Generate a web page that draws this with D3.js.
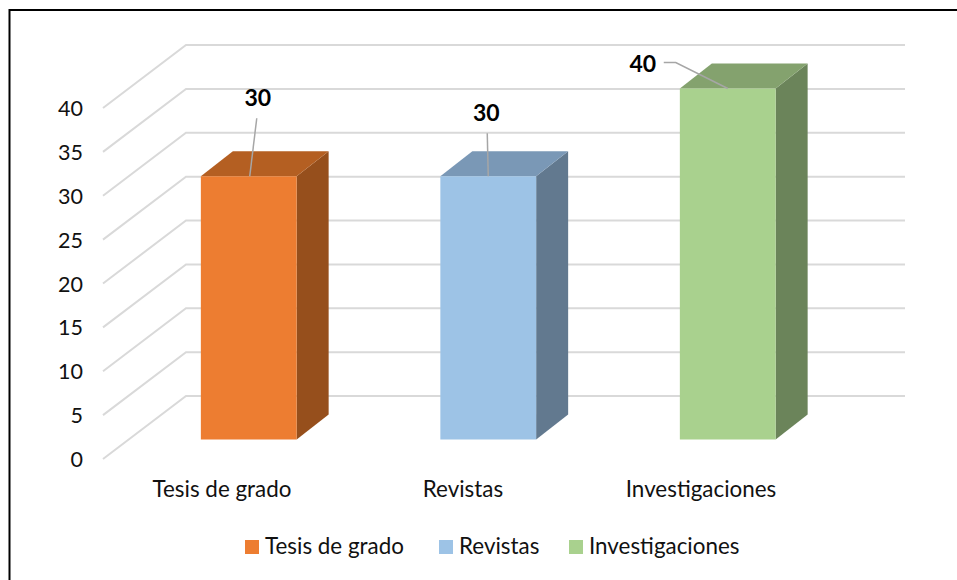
<!DOCTYPE html>
<html>
<head>
<meta charset="utf-8">
<script src="https://cdn.jsdelivr.net/npm/d3@7"></script>
<style>
  html, body { margin: 0; padding: 0; background: #fff; }
  svg { display: block; }
  text { font-family: Lato, "Open Sans", sans-serif; fill: #111; }
</style>
</head>
<body>
<svg width="957" height="580"></svg>
<script>
// Chart data
var categories = ["Tesis de grado", "Revistas", "Investigaciones"];
var values = [30, 30, 40];
var yTicks = [0, 5, 10, 15, 20, 25, 30, 35, 40];
var frontColors = ["#ED7D31", "#9DC3E6", "#A9D18E"];
var topColors = ["#B45F22", "#7A98B6", "#84A26E"];
var sideColors = ["#964F1C", "#62798F", "#6B845A"];

var svg = d3.select("svg");

//Only the top and left edges of the picture frame are visible
svg.append("path")
  .attr("d", d3.line()([[9.5, 580], [9.5, 10], [957, 10]]))
  .attr("fill", "none")
  .attr("stroke", "#000")
  .attr("stroke-width", 2);

//Scale of the back wall, the bars stand in front of it
const yBack = d3.scaleLinear().domain([0, 40]).range([396, 45]);
const xBand = d3.scaleBand().domain(categories).range([129, 847.5]).paddingInner(0.6).paddingOuter(0.3);

//Depth offsets of the floor and of the bars
const wallDepth = { x: 83, y: 63 };
const barDepth = { x: 32, y: 25 };
const wallLeft = 186;
const wallRight = 905;
const barLift = 43.5;

//Gridlines on the back wall and the side wall
const grid = svg.append("g").attr("class", "grid");
grid.selectAll("path")
  .data(yTicks)
  .join("path")
  .attr("d", function (d) {
    const y = yBack(d);
    return d3.line()([[wallLeft - wallDepth.x, y + wallDepth.y], [wallLeft, y], [wallRight, y]]);
  })
  .attr("fill", "none")
  .attr("stroke", "#D9D9D9")
  .attr("stroke-width", 2);

//Y axis labels
svg.selectAll(".y-label")
  .data(yTicks)
  .join("text")
  .attr("class", "y-label")
  .attr("x", 83)
  .attr("y", function (d) { return yBack(d) + 71; })
  .attr("text-anchor", "end")
  .style("font-size", "21.5px")
  .text(function (d) { return d; });

//Bars, each made from a front, a top and a side face
const bars = svg.selectAll(".bar")
  .data(categories)
  .join("g")
  .attr("class", "bar");

function barBox(i) {
  const x0 = xBand(categories[i]);
  const x1 = x0 + xBand.bandwidth();
  const yTop = yBack(values[i]) + barLift;
  const yBase = yBack(0) + barLift;
  return { x0: x0, x1: x1, yTop: yTop, yBase: yBase };
}

bars.append("path")
  .attr("d", function (d, i) {
    const b = barBox(i);
    return d3.line()([[b.x1, b.yTop], [b.x1 + barDepth.x, b.yTop - barDepth.y], [b.x1 + barDepth.x, b.yBase - barDepth.y], [b.x1, b.yBase]]) + "Z";
  })
  .attr("fill", function (d, i) { return sideColors[i]; });

bars.append("path")
  .attr("d", function (d, i) {
    const b = barBox(i);
    return d3.line()([[b.x0, b.yTop], [b.x0 + barDepth.x, b.yTop - barDepth.y], [b.x1 + barDepth.x, b.yTop - barDepth.y], [b.x1, b.yTop]]) + "Z";
  })
  .attr("fill", function (d, i) { return topColors[i]; });

bars.append("rect")
  .attr("x", function (d, i) { return barBox(i).x0; })
  .attr("y", function (d, i) { return barBox(i).yTop; })
  .attr("width", xBand.bandwidth())
  .attr("height", function (d, i) { return barBox(i).yBase - barBox(i).yTop; })
  .attr("fill", function (d, i) { return frontColors[i]; });

//Data labels were dragged by hand in the original, so they carry their own offsets
const labelOffsets = [
  { dx: 9, dy: -77, leader: [[8, -58], [1, 0]] },
  { dx: -2, dy: -62, leader: [[-1, -43], [0, 0]] },
  { dx: -85, dy: -24, leader: [[-64, -26], [-52, -26], [0, 0]] },
];

bars.append("path")
  .attr("d", function (d, i) {
    const b = barBox(i);
    const cx = (b.x0 + b.x1) / 2;
    return d3.line()(labelOffsets[i].leader.map(function (p) { return [cx + p[0], b.yTop + p[1]]; }));
  })
  .attr("fill", "none")
  .attr("stroke", "#A6A6A6")
  .attr("stroke-width", 1.5);

bars.append("text")
  .attr("x", function (d, i) { const b = barBox(i); return (b.x0 + b.x1) / 2 + labelOffsets[i].dx; })
  .attr("y", function (d, i) { return barBox(i).yTop + labelOffsets[i].dy + 7; })
  .attr("text-anchor", "middle")
  .style("font-size", "23px")
  .style("font-weight", "700")
  .style("fill", "#000")
  .text(function (d, i) { return values[i]; });

//Category labels under the bars
const xLabelCenters = [222, 463, 701];
svg.selectAll(".x-label")
  .data(categories)
  .join("text")
  .attr("class", "x-label")
  .attr("x", function (d, i) { return xLabelCenters[i]; })
  .attr("y", 497)
  .attr("text-anchor", "middle")
  .style("font-size", "22.4px")
  .text(function (d) { return d; });

//Legend
const legendX = [245, 439, 569];
const legend = svg.selectAll(".legend-item")
  .data(categories)
  .join("g")
  .attr("class", "legend-item")
  .attr("transform", function (d, i) { return `translate(${legendX[i]},540)`; });

legend.append("rect")
  .attr("width", 14)
  .attr("height", 14)
  .attr("fill", function (d, i) { return frontColors[i]; });

legend.append("text")
  .attr("x", 20)
  .attr("y", 14)
  .style("font-size", "22.4px")
  .text(function (d) { return d; });
</script>
</body>
</html>
